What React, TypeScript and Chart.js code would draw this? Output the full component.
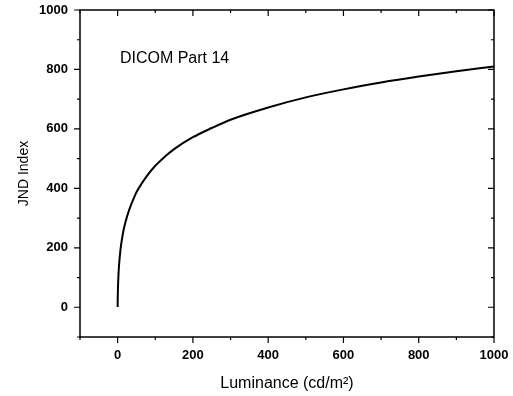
import React, { useEffect, useRef } from "react";
import { Chart, registerables } from "chart.js";

Chart.register(...registerables);

// Luminance (cd/m²) and JND index
const luminance = [0.05, 0.1, 0.2, 0.5, 1, 2, 3, 5, 7.5, 10, 15, 20, 30, 40, 50, 75, 100, 125, 150, 200, 250, 300, 400, 500, 600, 700, 800, 900, 1000];
const jndIndex = [1, 10, 23, 47, 71, 104, 128, 161, 193, 217, 255, 283, 325, 358, 387, 437, 476, 506, 532, 572, 603, 631, 672, 706, 733, 756, 776, 794, 810];

const xRange = [-100, 1000];
const yRange = [-100, 1000];
const tickStep = 100;
const labelStep = 200;

const xTitle = "Luminance (cd/m\u00B2)";
const yTitle = "JND Index";
const noteText = "DICOM Part 14";
const notePos = [6, 835];

const FONT = "'Liberation Sans', Arial, sans-serif";

const frameTicks = {
  id: "frameTicks",
  afterDatasetsDraw(chart: any) {
    const { ctx, chartArea: a, scales } = chart;
    const x = scales.x;
    const y = scales.y;
    ctx.save();
    ctx.strokeStyle = "#000";
    ctx.lineWidth = 1.5;
    ctx.strokeRect(a.left, a.top, a.right - a.left, a.bottom - a.top);
    ctx.lineWidth = 1.2;
    ctx.beginPath();
    for (const t of x.ticks) {
      const px = x.getPixelForValue(t.value);
      const len = t.value % labelStep === 0 ? 6 : 3;
      ctx.moveTo(px, a.bottom);
      ctx.lineTo(px, a.bottom + len);
      ctx.moveTo(px, a.top);
      ctx.lineTo(px, a.top + len);
    }
    for (const t of y.ticks) {
      const py = y.getPixelForValue(t.value);
      const len = t.value % labelStep === 0 ? 6 : 3;
      ctx.moveTo(a.left, py);
      ctx.lineTo(a.left - len, py);
      ctx.moveTo(a.right, py);
      ctx.lineTo(a.right - len, py);
    }
    ctx.stroke();
    ctx.fillStyle = "#000";
    ctx.font = `16px ${FONT}`;
    ctx.textAlign = "left";
    ctx.textBaseline = "middle";
    ctx.fillText(noteText, x.getPixelForValue(notePos[0]), y.getPixelForValue(notePos[1]));
    ctx.restore();
  },
};

export default function App() {
  const ref = useRef<HTMLCanvasElement | null>(null);
  useEffect(() => {
    document.body.style.margin = "0";
    const canvas = ref.current;
    if (!canvas) return;
    const chart = new Chart(canvas, {
      type: "line",
      data: {
        datasets: [
          {
            data: luminance.map((v, i) => ({ x: v, y: jndIndex[i] })),
            borderColor: "#000",
            borderWidth: 2,
            pointRadius: 0,
            fill: false,
            cubicInterpolationMode: "monotone",
          },
        ],
      },
      options: {
        responsive: false,
        animation: false,
        layout: { padding: { left: 0, top: 10, right: 19, bottom: 0 } },
        plugins: { legend: { display: false }, tooltip: { enabled: false } },
        scales: {
          x: {
            type: "linear",
            min: xRange[0],
            max: xRange[1],
            grid: { display: false, drawTicks: false, tickLength: 0 },
            border: { display: false },
            afterFit: (s: any) => {
              s.height = 59;
              s.paddingLeft = 0;
              s.paddingRight = 0;
            },
            ticks: {
              stepSize: tickStep,
              autoSkip: false,
              maxRotation: 0,
              padding: 11,
              color: "#000",
              font: { family: FONT, size: 13, weight: "bold" },
              callback: (v: any) => (v >= 0 && v % labelStep === 0 ? String(v) : ""),
            },
            title: {
              display: true,
              text: xTitle,
              color: "#000",
              font: { family: FONT, size: 16 },
              padding: { top: 0, bottom: 2.4 },
            },
          },
          y: {
            type: "linear",
            min: yRange[0],
            max: yRange[1],
            grid: { display: false, drawTicks: false, tickLength: 0 },
            border: { display: false },
            afterFit: (s: any) => {
              s.width = 80;
              s.paddingTop = 0;
              s.paddingBottom = 0;
            },
            ticks: {
              stepSize: tickStep,
              autoSkip: false,
              padding: 12,
              color: "#000",
              font: { family: FONT, size: 13, weight: "bold" },
              callback: (v: any) => (v >= 0 && v % labelStep === 0 ? String(v) : ""),
            },
            title: {
              display: true,
              text: yTitle,
              color: "#000",
              font: { family: FONT, size: 14 },
              padding: { top: 15.6, bottom: 0 },
            },
          },
        },
      },
      plugins: [frameTicks],
    } as any);
    return () => chart.destroy();
  }, []);
  return (
    <div style={{ width: 513, height: 396 }}>
      <canvas ref={ref} width={513} height={396} style={{ display: "block" }} />
    </div>
  );
}
